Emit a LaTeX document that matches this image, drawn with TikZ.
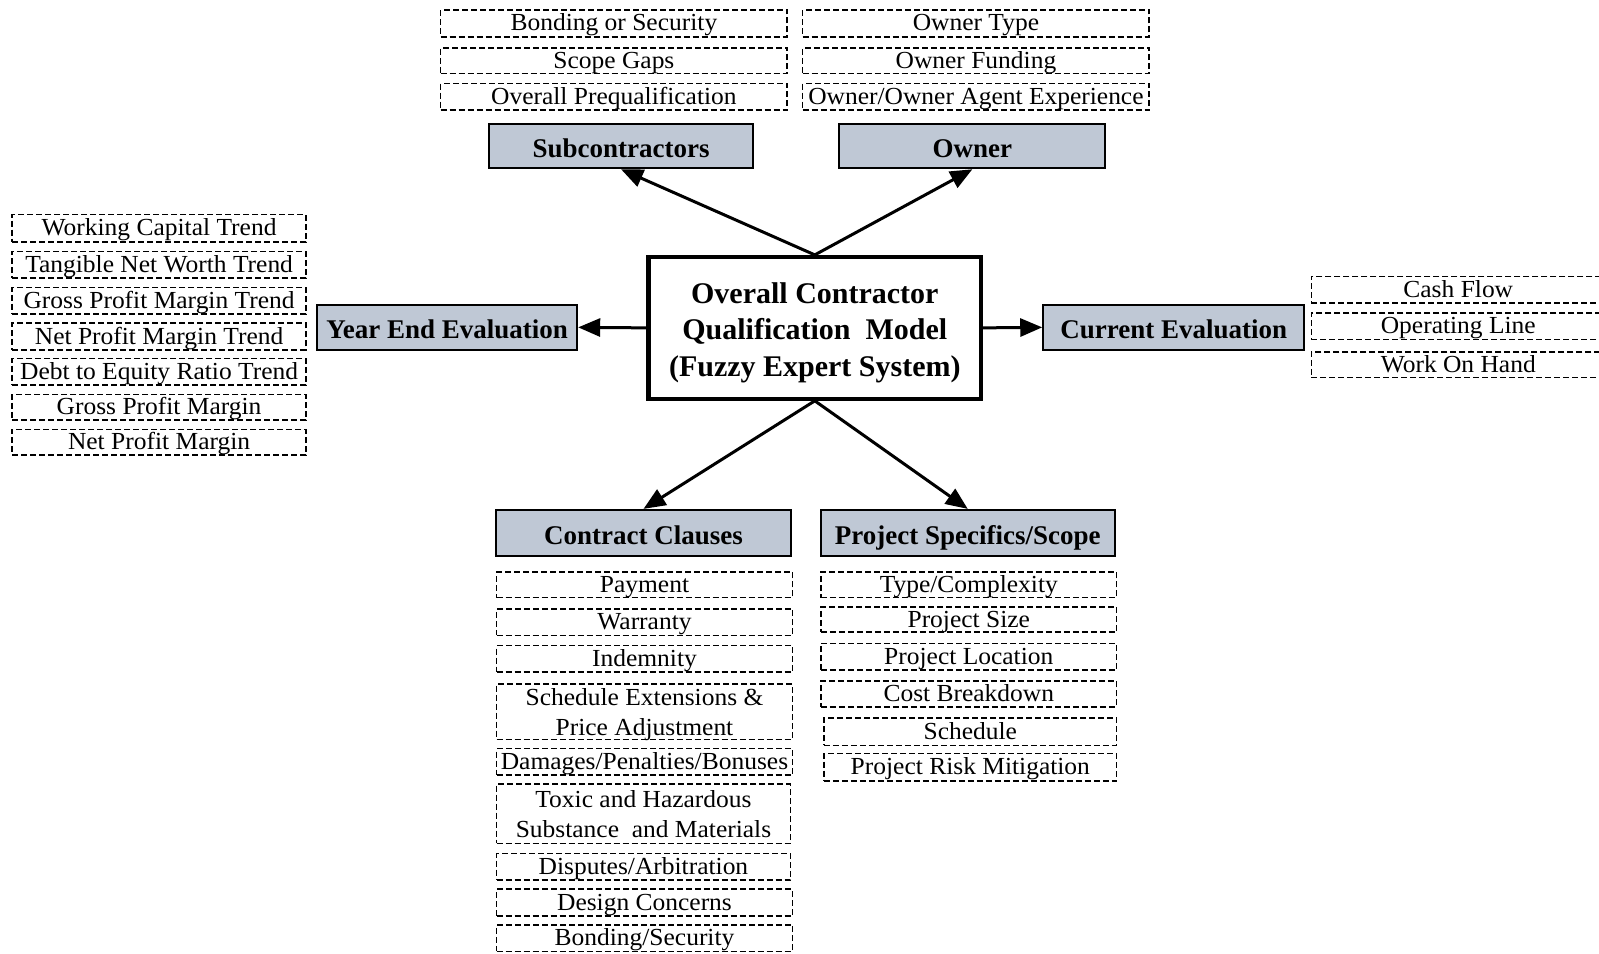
\documentclass[tikz,border=0pt]{standalone}
\usepackage{fontspec}
\setmainfont{Liberation Serif}
\newfontfamily\leaffont[FakeStretch=1.04]{Liberation Serif}
\usetikzlibrary{arrows.meta}
\definecolor{catfill}{HTML}{BFC8D5}
\tikzset{
  box/.style n args={2}{minimum width=#1*1.0198pt, minimum height=#2*1.0198pt, inner sep=0pt, align=center},
  leaf/.style={draw, line width=1.6pt, dash pattern=on 6pt off 3pt,
    font=\leaffont\fontsize{24.5}{29.5}\selectfont, text height=16.5pt, text depth=1.5pt},
  leaftwo/.style={leaf, text height=48pt, text depth=1pt},
  cat/.style={draw, line width=2pt, fill=catfill, font=\bfseries\fontsize{27}{31}\selectfont,
    text height=24pt, text depth=1pt},
  core/.style={draw, line width=4.2pt, fill=white, font=\bfseries\fontsize{30}{36.5}\selectfont,
    text height=98pt, text depth=1pt},
  arr/.style={line width=3pt, -{Triangle[length=22pt,width=18pt]}}
}
\begin{document}
\begin{tikzpicture}[x=1.0198pt, y=-1.0198pt]
\useasboundingbox (0,0) rectangle (1568,935);

% central model
\node[core, box={326}{139}] (core) at (799,321.5)
  {Overall Contractor\\Qualification\ \ Model\\(Fuzzy Expert System)};

% categories
\node[cat, box={258}{43}] (sub) at (609,143.5) {Subcontractors};
\node[cat, box={261}{43}] (own) at (953.5,143.5) {Owner};
\node[cat, box={255}{44}] (yee) at (438.5,321) {Year End Evaluation};
\node[cat, box={256}{44}] (cur) at (1151,321) {Current Evaluation};
\node[cat, box={290}{45}] (cc) at (631,522.5) {Contract Clauses};
\node[cat, box={288}{45}] (ps) at (949,522.5) {Project Specifics/Scope};

% connectors
\draw[arr] (core.north) -- (sub.south);
\draw[arr] (core.north) -- (own.south);
\draw[arr] (core.west) -- (yee.east);
\draw[arr] (core.east) -- (cur.west);
\draw[arr] (core.south) -- (cc.north);
\draw[arr] (core.south) -- (ps.north);

% subcontractor factors
\node[leaf, box={340}{26}] (s1) at (602,23) {Bonding or Security};
\node[leaf, box={340}{25}] (s2) at (602,59.5) {Scope Gaps};
\node[leaf, box={340}{26}] (s3) at (602,95) {Overall Prequalification};

% owner factors
\node[leaf, box={340}{26}] (o1) at (957,23) {Owner Type};
\node[leaf, box={340}{25}] (o2) at (957,59.5) {Owner Funding};
\node[leaf, box={340}{26}] (o3) at (957,95) {Owner/Owner Agent Experience};

% year end factors
\node[leaf, box={288}{27}] (y1) at (156,224) {Working Capital Trend};
\node[leaf, box={288}{26}] (y2) at (156,259.5) {Tangible Net Worth Trend};
\node[leaf, box={288}{26}] (y3) at (156,295) {Gross Profit Margin Trend};
\node[leaf, box={288}{26}] (y4) at (156,330) {Net Profit Margin Trend};
\node[leaf, box={288}{26}] (y5) at (156,364.5) {Debt to Equity Ratio Trend};
\node[leaf, box={288}{25}] (y6) at (156,399.5) {Gross Profit Margin};
\node[leaf, box={288}{25}] (y7) at (156,433.5) {Net Profit Margin};

% current factors
\node[leaf, box={288}{26}] (c1) at (1430,284) {Cash Flow};
\node[leaf, box={288}{26}] (c2) at (1430,320) {Operating Line};
\node[leaf, box={288}{25}] (c3) at (1430,357.5) {Work On Hand};

% contract clause factors
\node[leaf, box={290}{25}] (k1) at (632,573.5) {Payment};
\node[leaf, box={290}{26}] (k2) at (632,610) {Warranty};
\node[leaf, box={290}{26}] (k3) at (632,646) {Indemnity};
\node[leaftwo, box={290}{54}] (k4) at (632,698) {Schedule Extensions \&\\Price Adjustment};
\node[leaf, box={290}{26}] (k5) at (632,747) {Damages/Penalties/Bonuses};
\node[leaftwo, box={288}{58}] (k6) at (631,798) {Toxic and Hazardous\\Substance\ \ and Materials};
\node[leaf, box={288}{26}] (k7) at (631,850) {Disputes/Arbitration};
\node[leaf, box={290}{26}] (k8) at (632,885) {Design Concerns};
\node[leaf, box={290}{26}] (k9) at (632,920) {Bonding/Security};

% project specifics factors
\node[leaf, box={290}{25}] (p1) at (950,573.5) {Type/Complexity};
\node[leaf, box={290}{25}] (p2) at (950,607.5) {Project Size};
\node[leaf, box={290}{26}] (p3) at (950,644) {Project Location};
\node[leaf, box={290}{25}] (p4) at (950,680.5) {Cost Breakdown};
\node[leaf, box={287}{27}] (p5) at (951.5,717.5) {Schedule};
\node[leaf, box={287}{27}] (p6) at (951.5,752.5) {Project Risk Mitigation};
\end{tikzpicture}
\end{document}
